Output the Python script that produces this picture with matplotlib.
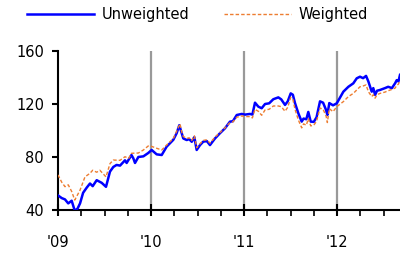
import numpy as np
import matplotlib
matplotlib.use('Agg')
import matplotlib.pyplot as plt

# time in years since start of 2009
t_unw = [0.00, 0.04, 0.075, 0.11, 0.147, 0.18, 0.21, 0.237, 0.27, 0.31,
         0.344, 0.373, 0.416, 0.47, 0.516, 0.559, 0.595, 0.63, 0.667, 0.72,
         0.738, 0.79, 0.81, 0.828, 0.864, 0.918, 0.97, 1.007, 1.061, 1.115,
         1.168, 1.24, 1.276, 1.304, 1.33, 1.347, 1.384, 1.41, 1.438, 1.466,
         1.491, 1.527, 1.562, 1.6, 1.634, 1.688, 1.742, 1.796, 1.849, 1.88,
         1.922, 1.975, 2.011, 2.065, 2.09, 2.118, 2.154, 2.19, 2.226, 2.27,
         2.315, 2.369, 2.40, 2.441, 2.47, 2.502, 2.525, 2.548, 2.584, 2.62,
         2.64, 2.67, 2.691, 2.717, 2.75, 2.78, 2.817, 2.85, 2.882, 2.896,
         2.917, 2.957, 2.997, 3.068, 3.122, 3.175, 3.212, 3.247, 3.28, 3.312,
         3.337, 3.373, 3.39, 3.409, 3.43, 3.462, 3.516, 3.55, 3.59, 3.624,
         3.642, 3.66, 3.677]
unweighted = [51, 49, 48, 45, 47, 39.5, 41, 45, 53, 57,
              60, 58, 62.5, 60.5, 57.5, 69, 72.5, 74, 73.5, 77.5,
              75.5, 81.5, 79, 75.5, 80, 80.5, 83, 85.3, 82, 81.5,
              87.8, 93, 98, 104, 98, 94, 92.8, 93.5, 91.5, 95,
              85.3, 89, 91.6, 92, 89, 94, 98, 101.7, 106.7, 107,
              111.7, 112.5, 112, 112.5, 112, 121, 118, 116.8, 120, 120.5,
              123.6, 125, 123.5, 119.3, 122, 128, 127, 120.7, 113, 106.7,
              109, 108.5, 114, 106.7, 106.5, 110, 122, 121, 115.5, 111.7,
              120.7, 119, 120.5, 129.3, 133, 135.6, 139.4, 140.6, 139.5, 141.2,
              137, 129.3, 132, 126.8, 130, 130.6, 132, 133, 132, 135.6,
              138, 137, 142]

t_wtd = [0.00, 0.04, 0.075, 0.11, 0.147, 0.18, 0.237, 0.29, 0.344, 0.373,
         0.416, 0.45, 0.516, 0.559, 0.595, 0.667, 0.72, 0.76, 0.79, 0.864,
         0.918, 0.97, 1.007, 1.061, 1.115, 1.168, 1.24, 1.312, 1.33, 1.347,
         1.384, 1.41, 1.438, 1.466, 1.491, 1.527, 1.562, 1.6, 1.634, 1.688,
         1.742, 1.796, 1.849, 1.88, 1.922, 1.975, 2.011, 2.065, 2.09, 2.118,
         2.154, 2.19, 2.226, 2.27, 2.315, 2.369, 2.40, 2.441, 2.47, 2.502,
         2.525, 2.548, 2.584, 2.62, 2.64, 2.67, 2.691, 2.717, 2.75, 2.78,
         2.817, 2.85, 2.882, 2.896, 2.917, 2.957, 2.997, 3.068, 3.122, 3.175,
         3.212, 3.247, 3.28, 3.312, 3.337, 3.373, 3.39, 3.409, 3.43, 3.462,
         3.516, 3.55, 3.59, 3.624, 3.642, 3.66, 3.677]
weighted = [66.5, 61, 57.6, 59, 54, 47.5, 55, 65, 67.7, 70,
            68.5, 70, 65, 75, 77.7, 77.5, 80.2, 79, 82.8, 83,
            85.3, 88.3, 88, 86.6, 85.3, 89, 94, 105, 99, 95.5,
            94, 94.5, 92.5, 96, 87, 90, 92.5, 93, 90.5, 95,
            98.5, 102, 106, 106.5, 110, 111, 110.5, 110.5, 109.5, 116,
            114.5, 111.5, 115.5, 116, 118.5, 118.5, 118, 114.5, 117.5, 125,
            123.5, 116, 108, 102, 105, 104, 109, 103.5, 104, 107,
            117, 116, 111, 106, 116.5, 114.2, 118, 121.8, 125.6, 128,
            130.6, 133, 133.6, 134.4, 129.3, 125.6, 127, 124.4, 127, 128,
            129, 130, 131, 132, 134, 135, 138]

year_pos = [0, 1, 2, 3]
year_labels = ["'09", "'10", "'11", "'12"]
y_ticks = [40, 80, 120, 160]

plt.rcParams['font.family'] = 'DejaVu Sans'

fig = plt.figure(figsize=(4.0, 2.57), dpi=100)
ax = fig.add_axes([58 / 400, 1 - 210 / 257, 1 - 58 / 400, (210 - 51) / 257])

for yp in year_pos[1:]:
    ax.axvline(yp, color='#999999', linewidth=1.6, zorder=1)

ax.plot(t_unw, unweighted, color='#0000FF', linewidth=1.8, label='Unweighted', zorder=3)
ax.plot(t_wtd, weighted, color='#ED7D31', linewidth=1.0, linestyle=(0, (2.5, 1.5)),
        label='Weighted', zorder=4)

ax.set_xlim(0, 3.677)
ax.set_ylim(40, 160)
ax.set_yticks(y_ticks)
ax.set_xticks(year_pos)
ax.set_xticklabels(year_labels)
ax.set_xticks(np.arange(0, 3.7, 0.25), minor=True)

for s in ['top', 'right']:
    ax.spines[s].set_visible(False)
for s in ['left', 'bottom']:
    ax.spines[s].set_linewidth(1.5)
    ax.spines[s].set_color('black')

ax.tick_params(axis='y', direction='out', length=4, width=1.5, labelsize=10.5, pad=6)
ax.tick_params(axis='x', which='major', direction='inout', length=8, width=1.5,
               labelsize=10.5, pad=14)
ax.tick_params(axis='x', which='minor', direction='out', length=4, width=1.2)

fig.legend(loc='center', bbox_to_anchor=(0.494, 0.942), ncol=2, frameon=False,
           fontsize=10.5, handlelength=4.6, handletextpad=0.5, columnspacing=2.4)

fig.savefig('out.png', dpi=100)
